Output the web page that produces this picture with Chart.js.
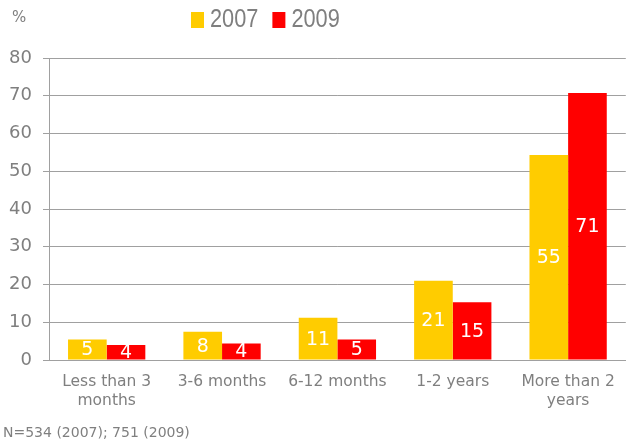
<!DOCTYPE html>
<html>
<head>
<meta charset="utf-8">
<script src="https://cdn.jsdelivr.net/npm/chart.js@4.4.0/dist/chart.umd.min.js"></script>
<style>
html,body{margin:0;padding:0;background:#fff;}
#wrap{position:relative;width:628px;height:441px;}
</style>
</head>
<body>
<div id="wrap"><canvas id="c" width="628" height="441"></canvas></div>
<script>
const categories = [["Less than 3","months"], "3-6 months", "6-12 months", "1-2 years", ["More than 2","years"]];
const seriesNames = ["2007", "2009"];
const values2007 = [5.4, 7.5, 11.2, 21.0, 54.3];
const values2009 = [4.0, 4.4, 5.4, 15.3, 70.7];
const labels2007 = [5, 8, 11, 21, 55];
const labels2009 = [4, 4, 5, 15, 71];
const yTicks = [0, 10, 20, 30, 40, 50, 60, 70, 80];
const unitLabel = "%";
const footnote = "N=534 (2007); 751 (2009)";

const GREY = "#7f7f7f";
const FONT = "'DejaVu Sans', Verdana, sans-serif";
const LEGEND_FONT = "25px 'Liberation Sans', Arial, sans-serif";
const LEGEND_SQUEEZE = 0.87;

const valueLabels = {
  id: 'valueLabels',
  afterDatasetsDraw(chart) {
    const ctx = chart.ctx;
    const lbls = [labels2007, labels2009];
    ctx.save();
    ctx.fillStyle = '#ffffff';
    ctx.font = "19px " + FONT;
    ctx.textAlign = 'center';
    ctx.textBaseline = 'middle';
    chart.data.datasets.forEach((ds, di) => {
      const meta = chart.getDatasetMeta(di);
      meta.data.forEach((bar, i) => {
        const p = bar.getProps(['x', 'y', 'base'], true);
        ctx.fillText(String(lbls[di][i]), p.x, (p.y + p.base) / 2 + 1);
      });
    });
    ctx.restore();
  }
};

const extraText = {
  id: 'extraText',
  afterDraw(chart) {
    const ctx = chart.ctx;
    ctx.save();
    ctx.fillStyle = GREY;
    ctx.font = "15px " + FONT;
    ctx.textAlign = 'left';
    ctx.textBaseline = 'middle';
    ctx.fillText(unitLabel, 12, 18);
    ctx.font = "14px " + FONT;
    ctx.fillText(footnote, 3, 433);
    // legend
    ctx.font = LEGEND_FONT;
    let x = 191;
    chart.data.datasets.forEach((ds) => {
      ctx.fillStyle = ds.backgroundColor;
      ctx.fillRect(x, 12, 13, 16);
      ctx.fillStyle = GREY;
      const tx = x + 19;
      ctx.save();
      ctx.translate(tx, 20);
      ctx.scale(LEGEND_SQUEEZE, 1);
      ctx.fillText(ds.label, 0, 0);
      ctx.restore();
      x = tx + ctx.measureText(ds.label).width * LEGEND_SQUEEZE + 14;
    });
    ctx.restore();
  }
};

new Chart(document.getElementById('c'), {
  type: 'bar',
  data: {
    labels: categories,
    datasets: [
      { label: seriesNames[0], data: values2007, backgroundColor: '#ffcc00' },
      { label: seriesNames[1], data: values2009, backgroundColor: '#ff0000' }
    ]
  },
  options: {
    responsive: false,
    animation: false,
    devicePixelRatio: 1,
    layout: { padding: { left: 0, right: 2, top: 58, bottom: 0 } },
    datasets: { bar: { categoryPercentage: 0.67, barPercentage: 1.0 } },
    plugins: {
      tooltip: { enabled: false },
      legend: { display: false }
    },
    scales: {
      x: {
        grid: { display: false, drawTicks: false },
        border: { display: true, color: '#a0a0a0', width: 1 },
        ticks: {
          color: GREY,
          font: { size: 15.5, family: FONT, lineHeight: 1.2 },
          maxRotation: 0,
          autoSkip: false,
          padding: 13
        },
        afterFit(scale) { scale.height = 81; }
      },
      y: {
        min: 0,
        max: 80,
        afterBuildTicks(scale) { scale.ticks = yTicks.map(v => ({ value: v })); },
        grid: { color: '#a0a0a0', lineWidth: 1, drawTicks: true, tickLength: 6 },
        border: { display: true, color: '#a0a0a0', width: 1 },
        ticks: {
          color: GREY,
          font: { size: 18, family: FONT },
          padding: 11
        },
        afterFit(scale) { scale.width = 49; }
      }
    }
  },
  plugins: [valueLabels, extraText]
});
</script>
</body>
</html>
